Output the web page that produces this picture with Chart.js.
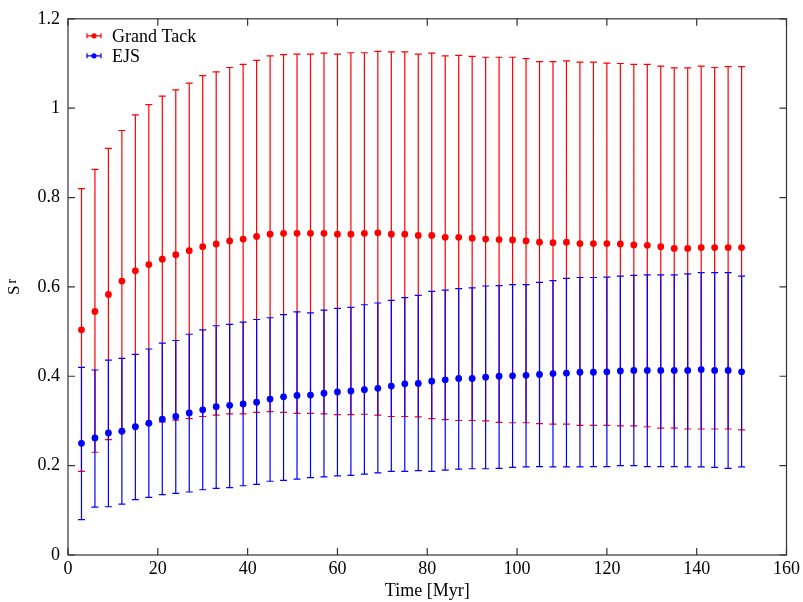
<!DOCTYPE html>
<html>
<head>
<meta charset="utf-8">
<script src="https://cdn.jsdelivr.net/npm/chart.js@4.4.1/dist/chart.umd.min.js"></script>
<style>
html, body { margin: 0; padding: 0; background: #fff; }
</style>
</head>
<body>
<canvas id="chart" width="803" height="602"></canvas>
<script>
// time in Myr
const time = [3, 6, 9, 12, 15, 18, 21, 24, 27, 30, 33, 36, 39, 42, 45, 48, 51, 54, 57, 60,
  63, 66, 69, 72, 75, 78, 81, 84, 87, 90, 93, 96, 99, 102, 105, 108, 111, 114, 117, 120,
  123, 126, 129, 132, 135, 138, 141, 144, 147, 150];

// Grand Tack: mean, upper and lower end of the error bar
const gtMean = [0.504, 0.545, 0.583, 0.613, 0.636, 0.650, 0.662, 0.672, 0.681, 0.690,
  0.696, 0.703, 0.707, 0.713, 0.718, 0.720, 0.720, 0.720, 0.720, 0.718,
  0.718, 0.720, 0.721, 0.718, 0.718, 0.715, 0.715, 0.711, 0.711, 0.709,
  0.707, 0.706, 0.705, 0.703, 0.700, 0.699, 0.700, 0.697, 0.697, 0.697,
  0.696, 0.694, 0.693, 0.690, 0.686, 0.686, 0.688, 0.688, 0.688, 0.688];
const gtHigh = [0.820, 0.863, 0.910, 0.950, 0.985, 1.008, 1.027, 1.041, 1.056, 1.073,
  1.081, 1.091, 1.098, 1.107, 1.117, 1.120, 1.121, 1.121, 1.123, 1.121,
  1.124, 1.124, 1.127, 1.126, 1.126, 1.121, 1.123, 1.117, 1.118, 1.116,
  1.114, 1.114, 1.114, 1.111, 1.104, 1.104, 1.106, 1.103, 1.103, 1.101,
  1.100, 1.098, 1.098, 1.094, 1.090, 1.090, 1.094, 1.091, 1.093, 1.093];
const gtLow = [0.187, 0.230, 0.258, 0.276, 0.288, 0.293, 0.298, 0.302, 0.305, 0.310,
  0.313, 0.316, 0.316, 0.319, 0.321, 0.319, 0.317, 0.317, 0.316, 0.314,
  0.314, 0.315, 0.313, 0.310, 0.310, 0.309, 0.305, 0.303, 0.301, 0.301,
  0.300, 0.297, 0.296, 0.296, 0.294, 0.293, 0.293, 0.290, 0.290, 0.290,
  0.289, 0.289, 0.287, 0.284, 0.284, 0.282, 0.282, 0.282, 0.282, 0.280];

// EJS
const ejsMean = [0.250, 0.262, 0.273, 0.277, 0.287, 0.295, 0.304, 0.310, 0.318, 0.325,
  0.332, 0.335, 0.338, 0.342, 0.349, 0.354, 0.357, 0.358, 0.362, 0.365,
  0.367, 0.370, 0.373, 0.378, 0.383, 0.384, 0.389, 0.392, 0.395, 0.395,
  0.398, 0.400, 0.401, 0.402, 0.404, 0.406, 0.407, 0.409, 0.409, 0.410,
  0.412, 0.413, 0.413, 0.413, 0.413, 0.413, 0.415, 0.413, 0.413, 0.410];
const ejsHigh = [0.420, 0.414, 0.436, 0.440, 0.449, 0.461, 0.474, 0.480, 0.494, 0.504,
  0.513, 0.516, 0.521, 0.527, 0.531, 0.538, 0.544, 0.542, 0.548, 0.552,
  0.554, 0.560, 0.564, 0.570, 0.576, 0.581, 0.590, 0.593, 0.596, 0.598,
  0.602, 0.603, 0.605, 0.605, 0.610, 0.614, 0.619, 0.621, 0.621, 0.622,
  0.624, 0.626, 0.627, 0.627, 0.627, 0.629, 0.632, 0.632, 0.632, 0.624];
const ejsLow = [0.079, 0.107, 0.108, 0.114, 0.124, 0.129, 0.135, 0.138, 0.141, 0.146,
  0.149, 0.151, 0.155, 0.158, 0.165, 0.167, 0.170, 0.173, 0.175, 0.177,
  0.178, 0.181, 0.184, 0.187, 0.187, 0.189, 0.187, 0.190, 0.192, 0.193,
  0.193, 0.194, 0.196, 0.197, 0.198, 0.197, 0.197, 0.197, 0.198, 0.198,
  0.200, 0.200, 0.198, 0.198, 0.198, 0.197, 0.197, 0.196, 0.194, 0.197];

const xTickLabels = ['0', '20', '40', '60', '80', '100', '120', '140', '160'];
const yTickLabels = ['0', '0.2', '0.4', '0.6', '0.8', '1', '1.2'];

const FONT = 'Liberation Serif';
const AXIS = '#333333';

const errBars = [
  { low: gtLow, high: gtHigh },
  { low: ejsLow, high: ejsHigh }
];

function points(ys) {
  return time.map((t, i) => ({ x: t, y: ys[i] }));
}

// error bars are drawn just before the points of the same dataset
const errorBarPlugin = {
  id: 'errorBars',
  beforeDatasetDraw(chart, args) {
    const ds = chart.data.datasets[args.index];
    const eb = errBars[args.index];
    const xs = chart.scales.x, ys = chart.scales.y;
    const ctx = chart.ctx;
    ctx.save();
    ctx.strokeStyle = ds.borderColor;
    ctx.lineWidth = 1.2;
    ctx.beginPath();
    ds.data.forEach((p, i) => {
      const px = xs.getPixelForValue(p.x);
      const top = ys.getPixelForValue(eb.high[i]);
      const bot = ys.getPixelForValue(eb.low[i]);
      ctx.moveTo(px, top); ctx.lineTo(px, bot);
      ctx.moveTo(px - 3.5, top); ctx.lineTo(px + 3.5, top);
      ctx.moveTo(px - 3.5, bot); ctx.lineTo(px + 3.5, bot);
    });
    ctx.stroke();
    ctx.restore();
  }
};

// gnuplot-like frame, inward ticks, legend and y title
const framePlugin = {
  id: 'frame',
  beforeDatasetsDraw(chart) {
    const { ctx, chartArea: a, scales } = chart;
    ctx.save();
    ctx.strokeStyle = AXIS;
    ctx.lineWidth = 1.2;
    ctx.strokeRect(a.left, a.top, a.right - a.left, a.bottom - a.top);
    ctx.beginPath();
    scales.x.ticks.forEach(t => {
      const px = scales.x.getPixelForValue(t.value);
      ctx.moveTo(px, a.bottom); ctx.lineTo(px, a.bottom - 7);
      ctx.moveTo(px, a.top); ctx.lineTo(px, a.top + 7);
    });
    scales.y.ticks.forEach(t => {
      const py = scales.y.getPixelForValue(t.value);
      ctx.moveTo(a.left, py); ctx.lineTo(a.left + 7, py);
      ctx.moveTo(a.right, py); ctx.lineTo(a.right - 7, py);
    });
    ctx.stroke();
    ctx.restore();
  },
  afterDraw(chart) {
    const { ctx, chartArea: a } = chart;
    ctx.save();
    // legend
    chart.data.datasets.forEach((ds, i) => {
      const cy = a.top + 17 + i * 20;
      const x0 = a.left + 19, x1 = a.left + 33, xc = a.left + 26;
      ctx.strokeStyle = ds.borderColor;
      ctx.lineWidth = 1.2;
      ctx.beginPath();
      ctx.moveTo(x0, cy); ctx.lineTo(x1, cy);
      ctx.moveTo(x0, cy - 2.5); ctx.lineTo(x0, cy + 2.5);
      ctx.moveTo(x1, cy - 2.5); ctx.lineTo(x1, cy + 2.5);
      ctx.stroke();
      ctx.fillStyle = ds.backgroundColor;
      ctx.beginPath();
      ctx.arc(xc, cy, 2.6, 0, Math.PI * 2);
      ctx.fill();
      ctx.fillStyle = '#000';
      ctx.font = '18px "' + FONT + '"';
      ctx.textAlign = 'left';
      ctx.textBaseline = 'alphabetic';
      ctx.fillText(ds.label, a.left + 44, cy + 6.5);
    });
    // y axis title S_r
    ctx.translate(19, (a.top + a.bottom) / 2);
    ctx.rotate(-Math.PI / 2);
    ctx.fillStyle = '#000';
    ctx.textAlign = 'left';
    ctx.textBaseline = 'alphabetic';
    ctx.font = '17px "' + FONT + '"';
    ctx.fillText('S', -8, 0);
    ctx.font = '14px "' + FONT + '"';
    ctx.fillText('r', 3.5, -3);
    ctx.restore();
  }
};

const ctx = document.getElementById('chart').getContext('2d');

const chart = new Chart(ctx, {
  type: 'scatter',
  data: {
    datasets: [
      {
        label: 'Grand Tack',
        data: points(gtMean),
        borderColor: '#ff0000',
        backgroundColor: '#ff0000',
        pointRadius: 3.4,
        pointBorderWidth: 0,
        order: 1
      },
      {
        label: 'EJS',
        data: points(ejsMean),
        borderColor: '#0000ff',
        backgroundColor: '#0000ff',
        pointRadius: 3.4,
        pointBorderWidth: 0,
        order: 0
      }
    ]
  },
  options: {
    responsive: false,
    animation: false,
    layout: { padding: { top: 15, right: 15, bottom: 0, left: 0 } },
    plugins: {
      legend: { display: false },
      tooltip: { enabled: false }
    },
    scales: {
      x: {
        type: 'linear',
        min: 0,
        max: 160,
        afterFit: s => { s.height = 47; },
        grid: { display: false, drawTicks: false, tickLength: 0 },
        border: { display: false },
        ticks: {
          stepSize: 20,
          padding: 3,
          color: '#000',
          font: { family: FONT, size: 18 },
          maxRotation: 0,
          callback: (v, i) => xTickLabels[i]
        },
        title: {
          display: true,
          text: 'Time [Myr]',
          color: '#000',
          font: { family: FONT, size: 18 },
          padding: { top: 0, bottom: 0 }
        }
      },
      y: {
        min: 0,
        max: 1.2,
        afterFit: s => { s.width = 68; },
        grid: { display: false, drawTicks: false, tickLength: 0 },
        border: { display: false },
        ticks: {
          stepSize: 0.2,
          padding: 8,
          color: '#000',
          font: { family: FONT, size: 18 },
          callback: (v, i) => yTickLabels[i]
        }
      }
    }
  },
  plugins: [errorBarPlugin, framePlugin]
});
</script>
</body>
</html>
